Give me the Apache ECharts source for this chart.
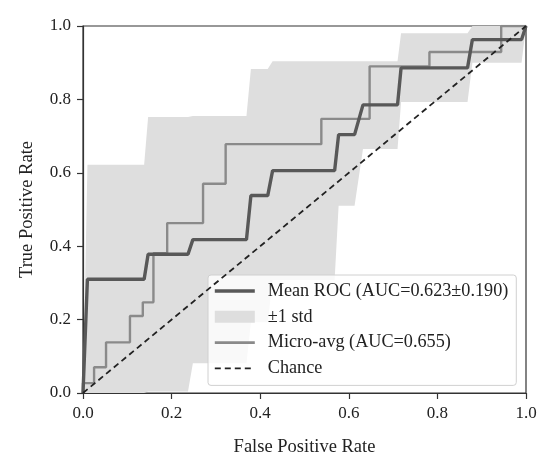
<!DOCTYPE html>
<html>
<head>
<meta charset="utf-8">
<script src="https://cdn.jsdelivr.net/npm/echarts@6/dist/echarts.min.js"></script>
<style>
  html, body { margin: 0; padding: 0; background: #fff; }
  #chart { width: 558px; height: 472px; }
</style>
</head>
<body>
<div id="chart"></div>
<script>
// mean ROC over the folds
const meanFpr = [0, 0.01, 0.138, 0.147, 0.237, 0.248, 0.369, 0.379, 0.417, 0.428, 0.568, 0.577, 0.613, 0.632, 0.71, 0.718, 0.868, 0.879, 0.99, 1.0];
const meanTpr = [0, 0.31, 0.31, 0.378, 0.378, 0.418, 0.418, 0.538, 0.538, 0.606, 0.606, 0.704, 0.704, 0.785, 0.785, 0.886, 0.886, 0.963, 0.963, 1.0];
// ±1 std band (same fpr grid)
const stdUpper = [0, 0.622, 0.622, 0.752, 0.752, 0.755, 0.755, 0.883, 0.883, 0.904, 0.904, 0.904, 0.904, 0.904, 0.904, 0.98, 0.98, 1.0, 1.0, 1.0];
const stdLower = [0, 0, 0, 0.004, 0.004, 0.081, 0.081, 0.193, 0.193, 0.308, 0.308, 0.51, 0.51, 0.665, 0.665, 0.793, 0.793, 0.9, 0.9, 1.0];
// micro-average ROC
const microFpr = [0, 0, 0.025, 0.025, 0.052, 0.052, 0.106, 0.106, 0.135, 0.135, 0.159, 0.159, 0.19, 0.19, 0.271, 0.271, 0.322, 0.322, 0.538, 0.538, 0.647, 0.647, 0.782, 0.782, 0.944, 0.944, 1.0];
const microTpr = [0, 0.027, 0.027, 0.07, 0.07, 0.138, 0.138, 0.21, 0.21, 0.247, 0.247, 0.381, 0.381, 0.463, 0.463, 0.57, 0.57, 0.678, 0.678, 0.747, 0.747, 0.89, 0.89, 0.929, 0.929, 1.0, 1.0];
const chance = [[0, 0], [1, 1]];

const names = {
    mean: 'Mean ROC (AUC=0.623±0.190)',
    std: '±1 std',
    micro: 'Micro-avg (AUC=0.655)',
    chance: 'Chance'
};

const font = '"Liberation Serif", "Times New Roman", serif';
const zip = (xs, ys) => xs.map((x, i) => [x, ys[i]]);

const chartDom = document.getElementById('chart');
const myChart = echarts.init(chartDom);

const axisCommon = {
    type: 'value',
    min: 0,
    max: 1,
    interval: 0.2,
    axisLine: { show: true, lineStyle: { color: '#333', width: 1.2 } },
    axisTick: { show: true, inside: false, length: 6, lineStyle: { color: '#333', width: 1.2 } },
    splitLine: { show: false },
    axisLabel: {
        color: '#222',
        fontFamily: font,
        fontSize: 17,
        margin: 12,
        formatter: v => v.toFixed(1)
    },
    nameLocation: 'middle',
    nameTextStyle: { color: '#222', fontFamily: font, fontSize: 18.5 }
};

// std band drawn as one polygon: upper edge forward, lower edge back
function renderBand(params, api) {
    const pts = [];
    for (let i = 0; i < meanFpr.length; i++) pts.push(api.coord([meanFpr[i], stdUpper[i]]));
    for (let i = meanFpr.length - 1; i >= 0; i--) pts.push(api.coord([meanFpr[i], stdLower[i]]));
    return {
        type: 'polygon',
        shape: { points: pts },
        style: { fill: '#dedede' },
        silent: true
    };
}

const option = {
    animation: false,
    backgroundColor: '#fff',
    grid: {
        left: 83, right: 32, top: 26, bottom: 79,
        show: true, borderColor: '#333', borderWidth: 1.2
    },
    xAxis: Object.assign({}, axisCommon, { name: 'False Positive Rate', nameGap: 45 }),
    yAxis: Object.assign({}, axisCommon, { name: 'True Positive Rate', nameGap: 46 }),
    legend: {
        orient: 'vertical',
        left: 208,
        top: 275,
        padding: [7, 8, 8, 5],
        itemGap: 7.8,
        itemWidth: 40,
        itemHeight: 12,
        itemStyle: { opacity: 0 },
        backgroundColor: 'rgba(255,255,255,0.8)',
        borderColor: '#d0d0d0',
        borderWidth: 1,
        borderRadius: 3,
        textStyle: { color: '#222', fontFamily: font, fontSize: 18.2, lineHeight: 18, padding: [0, 0, 0, 8] },
        data: [
            { name: names.mean, lineStyle: { width: 3.6, color: '#585858' } },
            { name: names.std, icon: 'rect', itemStyle: { color: '#dedede', opacity: 1 } },
            { name: names.micro, lineStyle: { width: 2.6, color: '#8a8a8a' } },
            { name: names.chance, lineStyle: { width: 1.8, color: '#222', type: [6, 4] } }
        ]
    },
    series: [
        {
            name: names.std,
            type: 'custom',
            renderItem: renderBand,
            itemStyle: { color: '#dedede' },
            data: [[0, 0]],
            clip: true,
            z: 1
        },
        {
            name: names.micro,
            type: 'line',
            symbol: 'none',
            lineStyle: { color: '#8a8a8a', width: 2.4 },
            itemStyle: { color: '#8a8a8a' },
            data: zip(microFpr, microTpr),
            z: 3
        },
        {
            name: names.mean,
            type: 'line',
            symbol: 'none',
            lineStyle: { color: '#585858', width: 3.4 },
            itemStyle: { color: '#585858' },
            data: zip(meanFpr, meanTpr),
            z: 4
        },
        {
            name: names.chance,
            type: 'line',
            symbol: 'none',
            lineStyle: { color: '#222', width: 1.8, type: [6, 4] },
            itemStyle: { color: '#222' },
            data: chance,
            z: 5
        }
    ]
};

option && myChart.setOption(option);
window.addEventListener('resize', () => {
    myChart && myChart.resize();
});
</script>
</body>
</html>
